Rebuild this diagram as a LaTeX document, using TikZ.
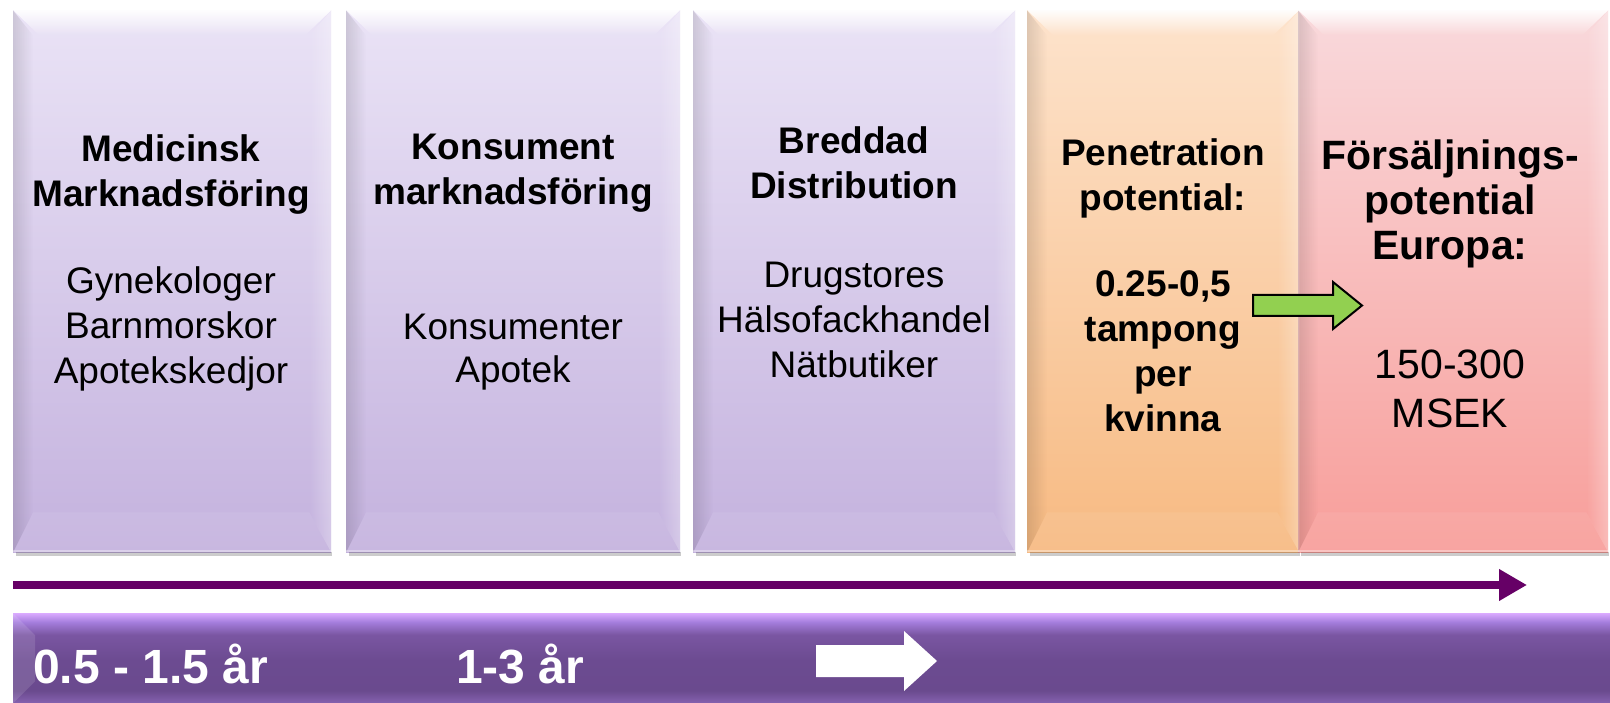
\documentclass[tikz,border=0pt]{standalone}
\usepackage{fontspec}
\setmainfont{Liberation Sans}
\usetikzlibrary{arrows.meta,fadings}
\definecolor{ptop}{HTML}{EAE3F6}
\definecolor{pbot}{HTML}{C4B2DE}
\definecolor{otop}{HTML}{FDE3CC}
\definecolor{obot}{HTML}{F7BA82}
\definecolor{rtop}{HTML}{F9D9DC}
\definecolor{rbot}{HTML}{F89E9A}
\definecolor{darr}{HTML}{660066}
\definecolor{garr}{HTML}{92D050}
\definecolor{bb1}{HTML}{8662B0}
\definecolor{bb2}{HTML}{6A4A8E}
\definecolor{bb3}{HTML}{6C4B91}
\definecolor{bb4}{HTML}{7A56A2}
\definecolor{bb5}{HTML}{A47DDC}
\definecolor{bb6}{HTML}{DAAAFF}
\pgfdeclareverticalshading{barshade}{100bp}{color(0bp)=(bb1); color(25bp)=(bb1); color(32bp)=(bb2); color(49bp)=(bb3); color(63bp)=(bb4); color(70bp)=(bb5); color(75bp)=(bb6); color(100bp)=(bb6)}
\tikzset{
  boxbase/.style={draw=none, inner sep=0, anchor=north west},
  pbox/.style={boxbase, top color=ptop, bottom color=pbot},
  obox/.style={boxbase, top color=otop, bottom color=obot},
  rbox/.style={boxbase, top color=rtop, bottom color=rbot},
  tx/.style={align=center, inner sep=0, anchor=north, font=\fontsize{37pt}{45pt}\selectfont},
  yr/.style={inner sep=0, anchor=west, text=white, font=\fontsize{48pt}{52pt}\selectfont\bfseries},
}
\newcommand\bevelbox[1]{%
  \fill[black,opacity=.2] ([shift={(3,0)}]#1.south west) rectangle ([shift={(1,4)}]#1.south east);
  \fill[white,opacity=.95,path fading=south] (#1.north west) -- (#1.north east) -- ([shift={(-26,25)}]#1.north east) -- ([shift={(26,25)}]#1.north west) -- cycle;
  \fill[black,opacity=.12,path fading=east] (#1.north west) -- ([shift={(20,25)}]#1.north west) -- ([shift={(20,-40)}]#1.south west) -- (#1.south west) -- cycle;
  \fill[white,opacity=.3,path fading=west] (#1.north east) -- ([shift={(-22,25)}]#1.north east) -- ([shift={(-22,-40)}]#1.south east) -- (#1.south east) -- cycle;
  \fill[white,opacity=.07] (#1.south west) -- (#1.south east) -- ([shift={(-22,-40)}]#1.south east) -- ([shift={(20,-40)}]#1.south west) -- cycle;
  \fill[white,opacity=.35] ([shift={(0,-2)}]#1.south west) rectangle (#1.south east);
}
\begin{document}
\begin{tikzpicture}[x=1pt,y=-1pt]
\useasboundingbox (0,0) rectangle (1610,703);
\fill[white] (0,0) rectangle (1610,703);
% boxes
\node[pbox, minimum width=318pt, minimum height=542pt] (b1) at (13,10) {};
\node[pbox, minimum width=334pt, minimum height=542pt] (b2) at (346,10) {};
\node[pbox, minimum width=322pt, minimum height=542pt] (b3) at (693,10) {};
\node[obox, minimum width=272pt, minimum height=542pt] (b4) at (1027,10) {};
\node[rbox, minimum width=310pt, minimum height=542pt] (b5) at (1298,10) {};
\bevelbox{b1}\bevelbox{b2}\bevelbox{b3}\bevelbox{b4}\bevelbox{b5}
% texts
\node[tx] (t1) at (171,134) {\textbf{Medicinsk}\\\textbf{Marknadsföring}\\[42pt]Gynekologer\\Barnmorskor\\Apotekskedjor};
\node[tx] (t2) at (513,134) {\textbf{Konsument}\\\textbf{marknadsföring}\\[90pt]Konsumenter\\[-2pt]Apotek};
\node[tx] (t3) at (854,126) {\textbf{Breddad}\\\textbf{Distribution}\\[44pt]Drugstores\\Hälsofackhandel\\Nätbutiker};
\node[tx] (t4) at (1163,138) {\textbf{Penetration}\\\textbf{potential:}\\[41pt]\textbf{0.25-0,5}\\\textbf{tampong}\\\textbf{per}\\\textbf{kvinna}};
\node[tx, font=\fontsize{41pt}{45pt}\selectfont] (t5) at (1450,140) {\textbf{Försäljnings-}\\\textbf{potential}\\\textbf{Europa:}\\[74pt]150-300\\[4pt]MSEK};
% green arrow
\draw[fill=garr, line width=2pt, line join=miter] (1253,295) -- (1333,295) -- (1333,282) -- (1362,305.5) -- (1333,329) -- (1333,316) -- (1253,316) -- cycle;
% timeline arrow
\coordinate (a0) at (13,585);
\coordinate (a1) at (1527,585);
\draw[darr, line width=8pt, -{Triangle[length=28pt,width=30pt]}] (a0) -- (a1);
% bottom bar
\node[draw=none, inner sep=0, anchor=north west, minimum width=1597pt, minimum height=90pt, shading=barshade] (bar) at (13,613) {};
\fill[white,opacity=.12] (bar.north west) -- ([shift={(22,22)}]bar.north west) -- ([shift={(22,-22)}]bar.south west) -- (bar.south west) -- cycle;
\node[yr] (y1) at (33,664) {0.5 - 1.5 år};
\node[yr] (y2) at (456,664) {1-3 år};
\fill[white] (816,645) -- (904,645) -- (904,631) -- (937,661) -- (904,691) -- (904,677) -- (816,677) -- cycle;
\end{tikzpicture}
\end{document}
